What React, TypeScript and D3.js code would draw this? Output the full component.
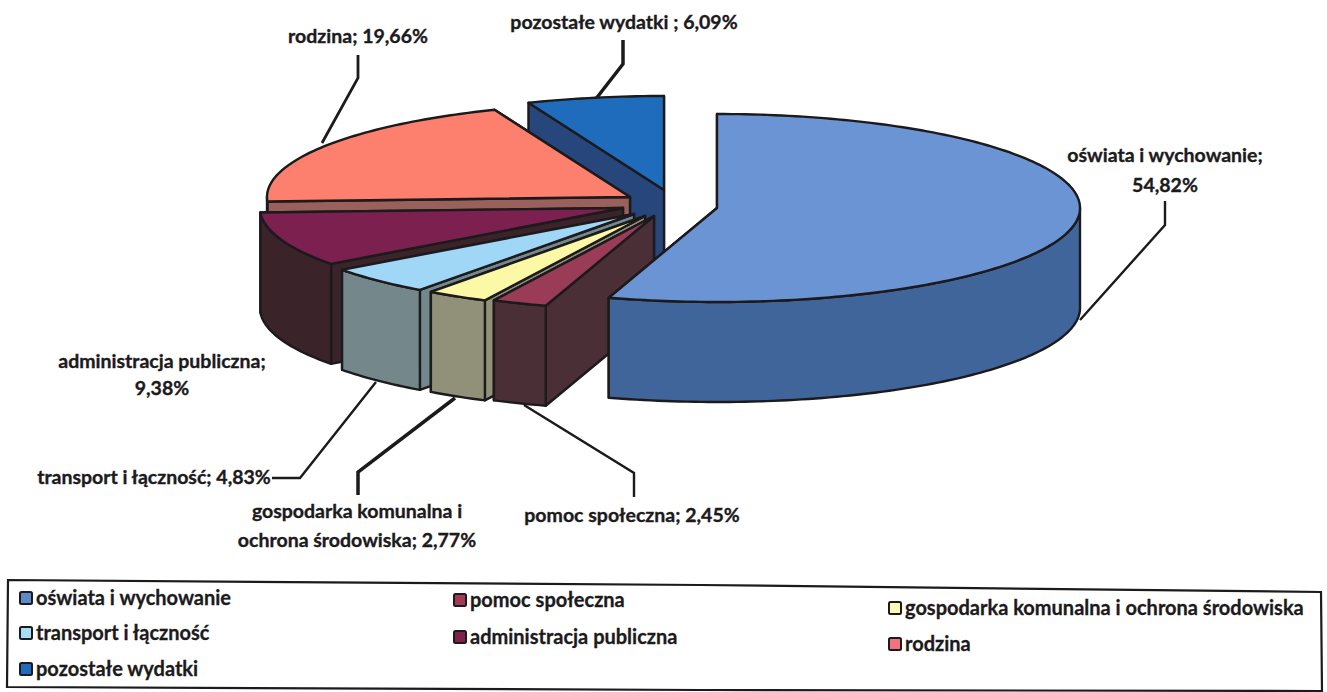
import React from 'react';
import * as d3 from 'd3';

const categories = [
  'oświata i wychowanie',
  'pomoc społeczna',
  'gospodarka komunalna i ochrona środowiska',
  'transport i łączność',
  'administracja publiczna',
  'rodzina',
  'pozostałe wydatki',
];
const shares = [54.82, 2.45, 2.77, 4.83, 9.38, 19.66, 6.09];

const topColors = ['#6b94d4', '#9a3b58', '#fbf8a6', '#a0d6f6', '#7c2050', '#fd7f6e', '#1f6cbc'];
const wallColors = ['#40659a', '#4a2f36', '#91917a', '#74878a', '#3a2329', '#99605c', '#27477c'];
const swatchColors = ['#5f8bc4', '#a23a58', '#fcfbb4', '#a6def5', '#7e2248', '#f2727e', '#1f6cbc'];

// exploded apex of every slice, same order as categories
const apexX = [717, 654, 645, 634, 623, 630, 664];
const apexY = [208, 216, 216, 214, 208, 197, 190];

const RX = 363;
const RY = 94;
const DEPTH = 100;
const INK = '#1c1a1c';

// back to front
const drawOrder = [6, 5, 4, 3, 2, 1, 0];

type Label = { lines: string[]; x: number; ys: number[] };
const dataLabels: Label[] = [
  { lines: ['oświata i wychowanie;', '54,82%'], x: 1165, ys: [162, 192] },
  { lines: ['pomoc społeczna; 2,45%'], x: 632, ys: [522] },
  { lines: ['gospodarka komunalna i', 'ochrona środowiska; 2,77%'], x: 357, ys: [518, 547] },
  { lines: ['transport i łączność; 4,83%'], x: 154, ys: [484] },
  { lines: ['administracja publiczna;', '9,38%'], x: 162, ys: [368, 395] },
  { lines: ['rodzina; 19,66%'], x: 358, ys: [43] },
  { lines: ['pozostałe wydatki ; 6,09%'], x: 624, ys: [29] },
];

const leaders: [number, number][][] = [
  [[1080, 320], [1165, 225], [1165, 201]],
  [[524, 405], [634, 473], [634, 497]],
  [[455, 398], [358, 472], [358, 495]],
  [[272, 478], [300, 478], [376, 382]],
  [],
  [[322, 143], [358, 78], [358, 55]],
  [[595, 100], [623, 64], [623, 40]],
];
const leaderWidths = [2.4, 2.4, 3.5, 2.4, 0, 2.8, 3.5];

const legendX = [20, 454, 889, 20, 454, 889, 20];
const legendY = [599, 601, 609, 634, 638, 645, 670];

const legendBox: [number, number][] = [[8, 580], [700, 585], [1321, 592], [1322, 691], [700, 690], [7, 687]];

const arcs = d3.pie<number>().sort(null).startAngle(0).endAngle(2 * Math.PI)(shares);
const toPath = d3.line();

function rimPoint(i: number, a: number, dy = 0): [number, number] {
  return [apexX[i] + RX * Math.sin(a), apexY[i] - RY * Math.cos(a) + dy];
}

function sweep(i: number, a0: number, a1: number, dy = 0): [number, number][] {
  const n = Math.max(2, Math.ceil((a1 - a0) / 0.02));
  return d3.range(n + 1).map(k => rimPoint(i, a0 + ((a1 - a0) * k) / n, dy));
}

function Slice({ i }: { i: number }) {
  const { startAngle: a0, endAngle: a1 } = arcs[i];
  const apex: [number, number] = [apexX[i], apexY[i]];
  const apexLow: [number, number] = [apexX[i], apexY[i] + DEPTH];
  const cut = (a: number) =>
    toPath([apex, rimPoint(i, a), rimPoint(i, a, DEPTH), apexLow])! + 'Z';
  // only the front half of the rim can be seen
  const f0 = Math.max(a0, Math.PI / 2);
  const f1 = Math.min(a1, (3 * Math.PI) / 2);
  const rim = f1 > f0 ? toPath([...sweep(i, f0, f1), ...sweep(i, f0, f1, DEPTH).reverse()])! + 'Z' : null;
  const top = toPath([apex, ...sweep(i, a0, a1)])! + 'Z';
  const common = { stroke: INK, strokeWidth: 2.4, strokeLinejoin: 'round' as const };
  return (
    <g>
      {/* the end cut faces away, the start cut faces the viewer */}
      <path d={cut(a1)} fill={wallColors[i]} {...common} />
      <path d={cut(a0)} fill={wallColors[i]} {...common} />
      {rim && <path d={rim} fill={wallColors[i]} {...common} />}
      <path d={top} fill={topColors[i]} {...common} />
    </g>
  );
}

export default function App() {
  document.body.style.margin = '0';
  return (
    <svg width={1327} height={692} style={{ display: 'block', background: '#fff' }}
      fontFamily="Lato, 'Open Sans', sans-serif" fontWeight={700} fill="#1c1a1c">
      {leaders.map((pts, i) => pts.length > 0 && (
        <path key={i} d={toPath(pts)!} fill="none" stroke={INK} strokeWidth={leaderWidths[i]} />
      ))}
      {drawOrder.map(i => <Slice key={i} i={i} />)}
      {dataLabels.map((l, i) => (
        <text key={i} fontSize={19.5} textAnchor="middle" stroke="#1c1a1c" strokeWidth={0.35}>
          {l.lines.map((t, k) => <tspan key={k} x={l.x} y={l.ys[k]}>{t}</tspan>)}
        </text>
      ))}
      <path d={toPath(legendBox)! + 'Z'} fill="none" stroke={INK} strokeWidth={2.2} />
      {categories.map((c, i) => (
        <g key={c}>
          <rect x={legendX[i]} y={legendY[i] - 7} width={12} height={12} rx={1.5}
            fill={swatchColors[i]} stroke={INK} strokeWidth={2} />
          <text x={legendX[i] + 16} y={legendY[i] + 6} fontSize={20} stroke="#1c1a1c" strokeWidth={0.3}>{c}</text>
        </g>
      ))}
    </svg>
  );
}
